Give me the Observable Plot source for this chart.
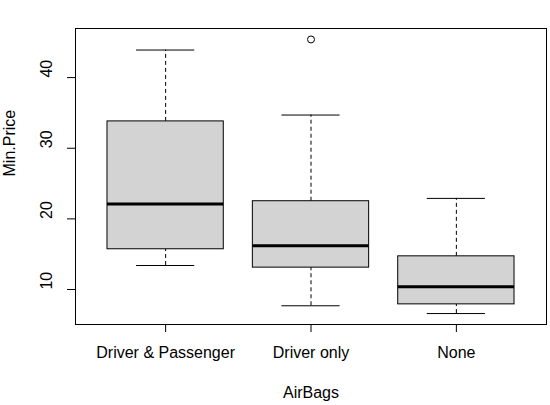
<!DOCTYPE html>
<html lang="en">
<head>
<meta charset="UTF-8">
<script src="https://cdn.jsdelivr.net/npm/d3@7"></script>
<script src="https://cdn.jsdelivr.net/npm/@observablehq/plot@0.6"></script>
<style>
  body { margin: 0; background: white; }
  #plot svg { display: block; }
</style>
</head>
<body>
<div id="plot"></div>
<script>
// Min.Price by AirBags (Cars93)
const airbags   = ["Driver & Passenger", "Driver only", "None"];
const whiskLow  = [13.4, 7.7, 6.6];
const q1        = [15.7, 13.1, 7.9];
const medians   = [22.1, 16.2, 10.4];
const q3        = [33.8, 22.5, 14.7];
const whiskHigh = [43.9, 34.7, 22.9];
const outliers  = [{group: 2, value: 45.4}];
const yTicks    = [10, 20, 30, 40];

const boxes = airbags.map((name, i) => ({
  name, pos: i + 1,
  lo: whiskLow[i], q1: q1[i], med: medians[i], q3: q3[i], hi: whiskHigh[i]
}));

const font = "Liberation Sans, Arial, sans-serif";

const plot = Plot.plot({
  width: 550,
  height: 405,
  marginLeft: 75,
  marginRight: 4,
  marginTop: 28,
  marginBottom: 81,
  style: {fontFamily: font, fontSize: "16px", background: "white", color: "black"},
  x: {domain: [0.38, 3.62]},
  y: {domain: [5.05, 46.95]},
  marks: [
    // whiskers
    Plot.ruleX(boxes, {x: "pos", y1: "q3", y2: "hi", stroke: "black", strokeDasharray: "4,3"}),
    Plot.ruleX(boxes, {x: "pos", y1: "lo", y2: "q1", stroke: "black", strokeDasharray: "4,3"}),
    // caps
    Plot.ruleY(boxes, {y: "hi", x1: d => d.pos - 0.2, x2: d => d.pos + 0.2, stroke: "black"}),
    Plot.ruleY(boxes, {y: "lo", x1: d => d.pos - 0.2, x2: d => d.pos + 0.2, stroke: "black"}),
    // boxes
    Plot.rect(boxes, {x1: d => d.pos - 0.4, x2: d => d.pos + 0.4, y1: "q1", y2: "q3",
      fill: "#d3d3d3", stroke: "black", strokeWidth: 1}),
    // medians
    Plot.ruleY(boxes, {y: "med", x1: d => d.pos - 0.4, x2: d => d.pos + 0.4, stroke: "black", strokeWidth: 3}),
    // outliers
    Plot.dot(outliers, {x: "group", y: "value", r: 3.5, stroke: "black", fill: "none", strokeWidth: 1}),
    // frame
    Plot.frame({stroke: "black", strokeWidth: 1}),
    // x axis
    Plot.axisX({ticks: [1, 2, 3], tickFormat: d => airbags[d - 1], tickSize: 8,
      tickPadding: 14, fontSize: 16, label: null}),
    Plot.text(["AirBags"], {frameAnchor: "bottom", dy: 68, lineAnchor: "middle", fontSize: 16}),
    // y axis
    Plot.axisY({ticks: yTicks, tickSize: 8, tickFormat: () => "", label: null}),
    Plot.text(yTicks, {y: d => d, text: d => String(d), frameAnchor: "left", dx: -29,
      rotate: -90, lineAnchor: "middle", fontSize: 16}),
    Plot.text(["Min.Price"], {frameAnchor: "left", dx: -66, rotate: -90, lineAnchor: "middle", fontSize: 16})
  ]
});

document.querySelector("#plot").append(plot);
</script>
</body>
</html>
